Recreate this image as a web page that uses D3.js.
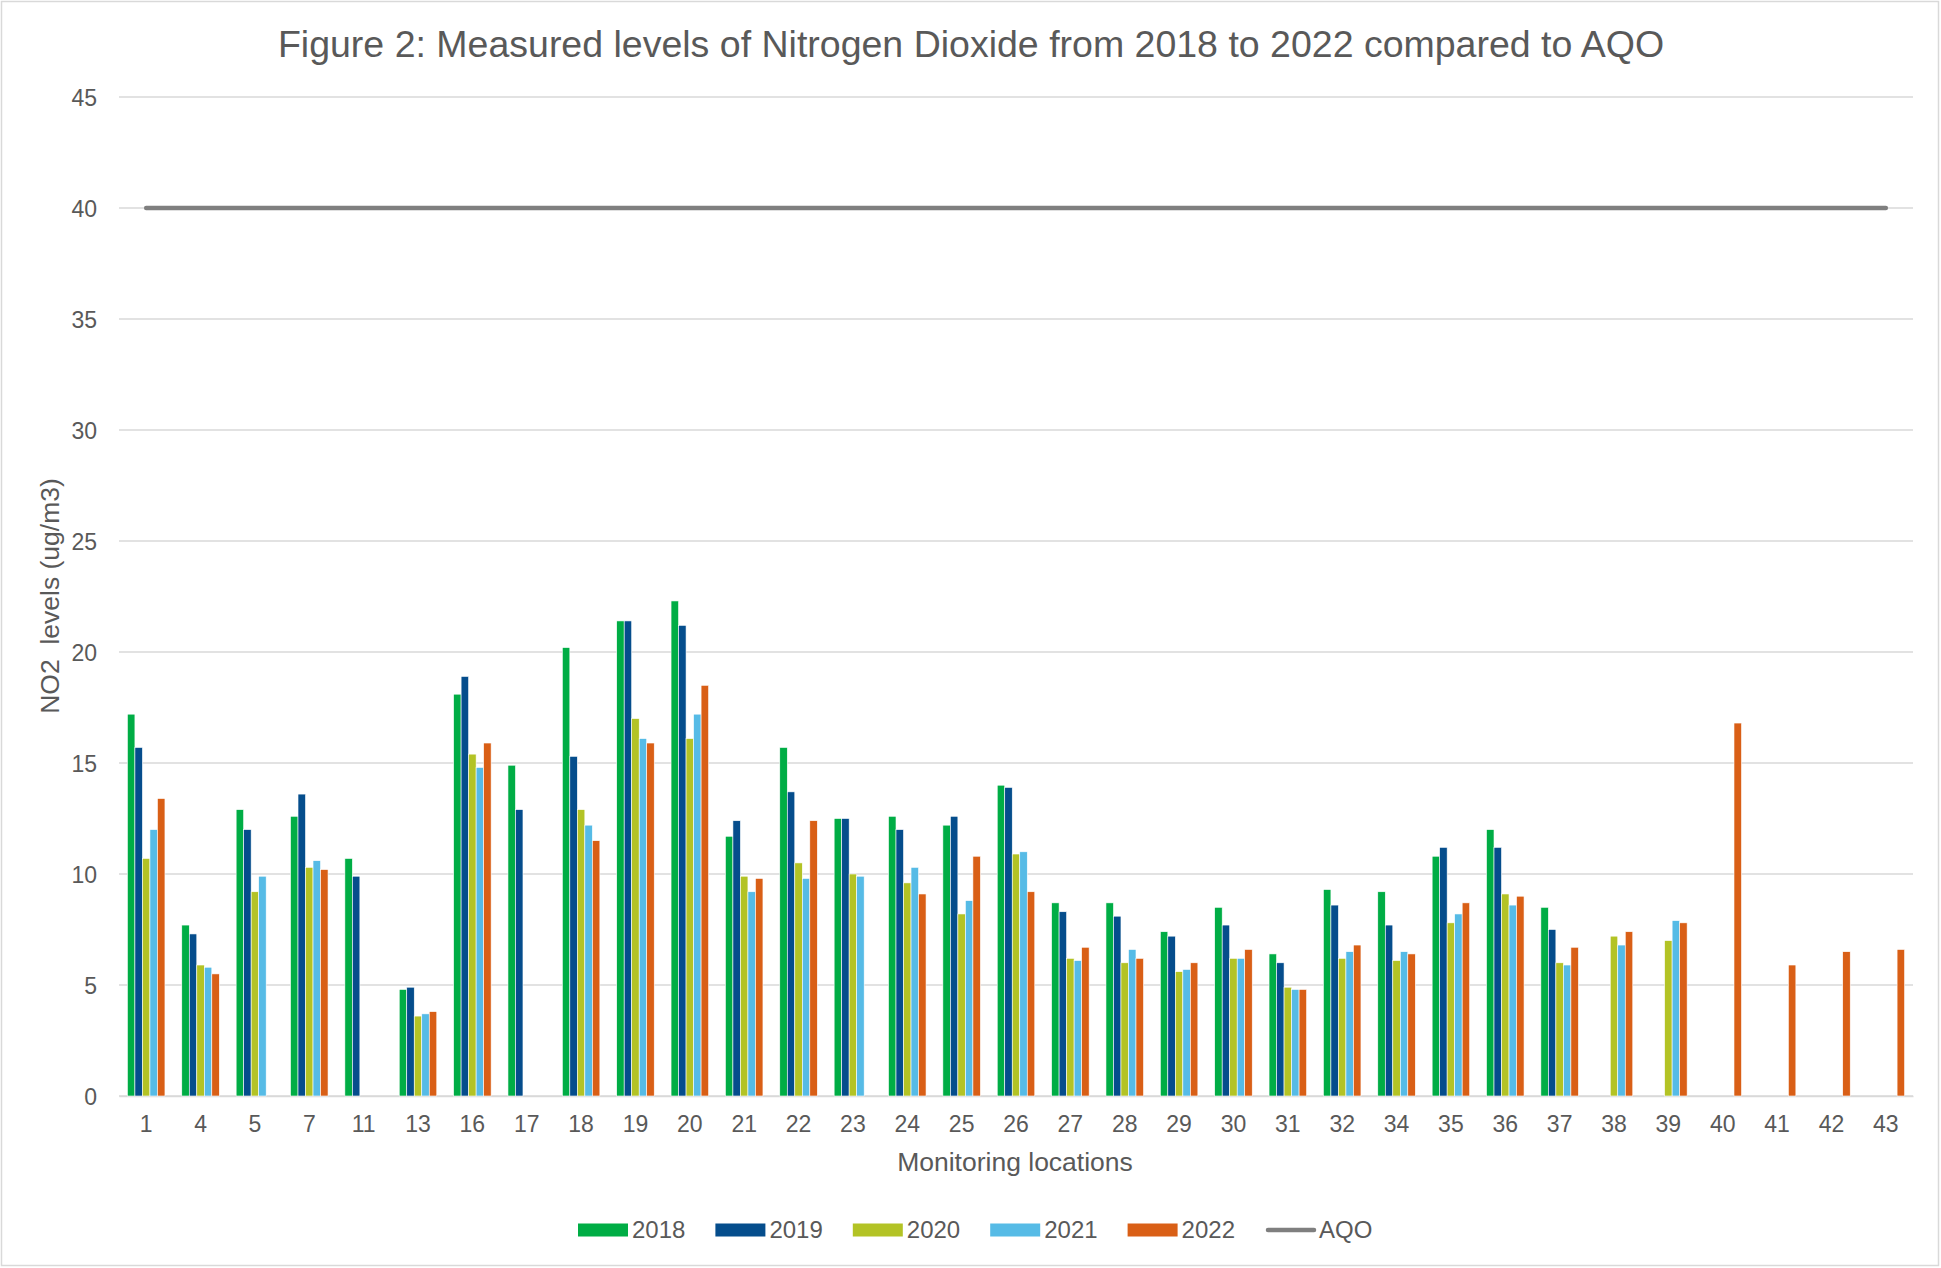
<!DOCTYPE html>
<html>
<head>
<meta charset="utf-8">
<script src="https://cdn.jsdelivr.net/npm/d3@7"></script>
<style>
  body { margin: 0; background: #fff; }
  text { font-family: "Liberation Sans", Arial, sans-serif; fill: #595959; }
</style>
</head>
<body>
<div id="chart"></div>
<script>
// Datos
const locations = ['1','4','5','7','11','13','16','17','18','19','20','21','22','23','24','25','26','27','28','29','30','31','32','34','35','36','37','38','39','40','41','42','43'];
const years = ['2018', '2019', '2020', '2021', '2022'];
const colors = ['#00AD45', '#054D8C', '#B3C325', '#56BBE6', '#D95F16'];

const v2018 = [17.2, 7.7, 12.9, 12.6, 10.7, 4.8, 18.1, 14.9, 20.2, 21.4, 22.3, 11.7, 15.7, 12.5, 12.6, 12.2, 14.0, 8.7, 8.7, 7.4, 8.5, 6.4, 9.3, 9.2, 10.8, 12.0, 8.5, null, null, null, null, null, null];
const v2019 = [15.7, 7.3, 12.0, 13.6, 9.9, 4.9, 18.9, 12.9, 15.3, 21.4, 21.2, 12.4, 13.7, 12.5, 12.0, 12.6, 13.9, 8.3, 8.1, 7.2, 7.7, 6.0, 8.6, 7.7, 11.2, 11.2, 7.5, null, null, null, null, null, null];
const v2020 = [10.7, 5.9, 9.2, 10.3, null, 3.6, 15.4, null, 12.9, 17.0, 16.1, 9.9, 10.5, 10.0, 9.6, 8.2, 10.9, 6.2, 6.0, 5.6, 6.2, 4.9, 6.2, 6.1, 7.8, 9.1, 6.0, 7.2, 7.0, null, null, null, null];
const v2021 = [12.0, 5.8, 9.9, 10.6, null, 3.7, 14.8, null, 12.2, 16.1, 17.2, 9.2, 9.8, 9.9, 10.3, 8.8, 11.0, 6.1, 6.6, 5.7, 6.2, 4.8, 6.5, 6.5, 8.2, 8.6, 5.9, 6.8, 7.9, null, null, null, null];
const v2022 = [13.4, 5.5, null, 10.2, null, 3.8, 15.9, null, 11.5, 15.9, 18.5, 9.8, 12.4, null, 9.1, 10.8, 9.2, 6.7, 6.2, 6.0, 6.6, 4.8, 6.8, 6.4, 8.7, 9.0, 6.7, 7.4, 7.8, 16.8, 5.9, 6.5, 6.6];
const aqo = locations.map(() => 40);
const yTicks = [0, 5, 10, 15, 20, 25, 30, 35, 40, 45];

const series = [v2018, v2019, v2020, v2021, v2022];

// Dimensiones
const W = 1941, H = 1268;
const plot = { left: 119, right: 1913, top: 97, bottom: 1096 };

const svg = d3.select('#chart')
  .append('svg')
  .attr('width', W)
  .attr('height', H);

// Borde del gráfico
svg.append('rect')
  .attr('x', 1.5).attr('y', 1.5)
  .attr('width', W - 4).attr('height', H - 4)
  .attr('fill', '#fff')
  .attr('stroke', '#d9d9d9')
  .attr('stroke-width', 1.5);

// Escalas
const x0 = d3.scaleBand().domain(locations).range([plot.left, plot.right]).padding(0);
const x1 = d3.scaleBand().domain(years).range([0, x0.bandwidth()]).paddingInner(0).paddingOuter(1.12);
const y = d3.scaleLinear().domain([0, 45]).range([plot.bottom, plot.top]);

// Líneas de cuadrícula
svg.append('g')
  .selectAll('line')
  .data(yTicks)
  .join('line')
  .attr('x1', plot.left).attr('x2', plot.right)
  .attr('y1', (d) => y(d)).attr('y2', (d) => y(d))
  .attr('stroke', '#d9d9d9')
  .attr('stroke-width', 1.5);

// Eje Y
const yAxis = svg.append('g')
  .attr('transform', `translate(${plot.left - 22},0)`)
  .call(d3.axisLeft(y).tickValues(yTicks).tickSize(0).tickPadding(0));
yAxis.select('.domain').remove();
yAxis.selectAll('text').attr('font-size', 23).attr('fill', '#595959').attr('dy', '0.35em');

// Eje X
const xAxis = svg.append('g')
  .attr('transform', `translate(0,${plot.bottom})`)
  .call(d3.axisBottom(x0).tickSize(0).tickPadding(20));
xAxis.select('.domain').attr('stroke', '#d9d9d9').attr('stroke-width', 1.5);
xAxis.selectAll('text').attr('font-size', 23).attr('fill', '#595959');

// Barras
years.forEach((yr, i) => {
  svg.append('g')
    .selectAll('rect')
    .data(locations.map((loc, j) => ({ loc, v: series[i][j] })).filter((d) => d.v != null))
    .join('rect')
    .attr('x', (d) => x0(d.loc) + x1(yr))
    .attr('y', (d) => y(d.v))
    .attr('width', x1.bandwidth())
    .attr('height', (d) => y(0) - y(d.v))
    .attr('fill', colors[i])
    .attr('stroke', '#fff')
    .attr('stroke-width', 0.6);
});

// Línea AQO
const line = d3.line()
  .x((d, j) => x0(locations[j]) + x0.bandwidth() / 2)
  .y((d) => y(d));
svg.append('path')
  .datum(aqo)
  .attr('fill', 'none')
  .attr('stroke', '#7f7f7f')
  .attr('stroke-width', 4.5)
  .attr('stroke-linecap', 'round')
  .attr('d', line);

// Título
svg.append('text')
  .attr('x', 971).attr('y', 57)
  .attr('text-anchor', 'middle')
  .attr('font-size', 37.5)
  .text('Figure 2: Measured levels of Nitrogen Dioxide from 2018 to 2022 compared to AQO');

// Títulos de ejes
svg.append('text')
  .attr('x', 1015).attr('y', 1171)
  .attr('text-anchor', 'middle')
  .attr('font-size', 26.5)
  .text('Monitoring locations');

svg.append('text')
  .attr('transform', 'translate(59,596) rotate(-90)')
  .attr('text-anchor', 'middle')
  .attr('font-size', 26.5)
  .attr('xml:space', 'preserve')
  .text('NO2  levels (ug/m3)');

// Leyenda
const legendItems = years.map((yr, i) => ({ label: yr, color: colors[i], type: 'bar' }))
  .concat([{ label: 'AQO', color: '#7f7f7f', type: 'line' }]);
const legend = svg.append('g').attr('transform', 'translate(578,1230)');
legendItems.forEach((d, i) => {
  const g = legend.append('g').attr('transform', `translate(${i * 137.4},0)`);
  if (d.type === 'bar') {
    g.append('rect').attr('x', 0).attr('y', -6.5).attr('width', 50).attr('height', 13).attr('fill', d.color);
  } else {
    g.append('line').attr('x1', 3).attr('x2', 49).attr('y1', 0).attr('y2', 0)
      .attr('stroke', d.color).attr('stroke-width', 4.5).attr('stroke-linecap', 'round');
  }
  g.append('text').attr('x', 54).attr('y', 0).attr('dy', '0.35em').attr('font-size', 24).text(d.label);
});
</script>
</body>
</html>
